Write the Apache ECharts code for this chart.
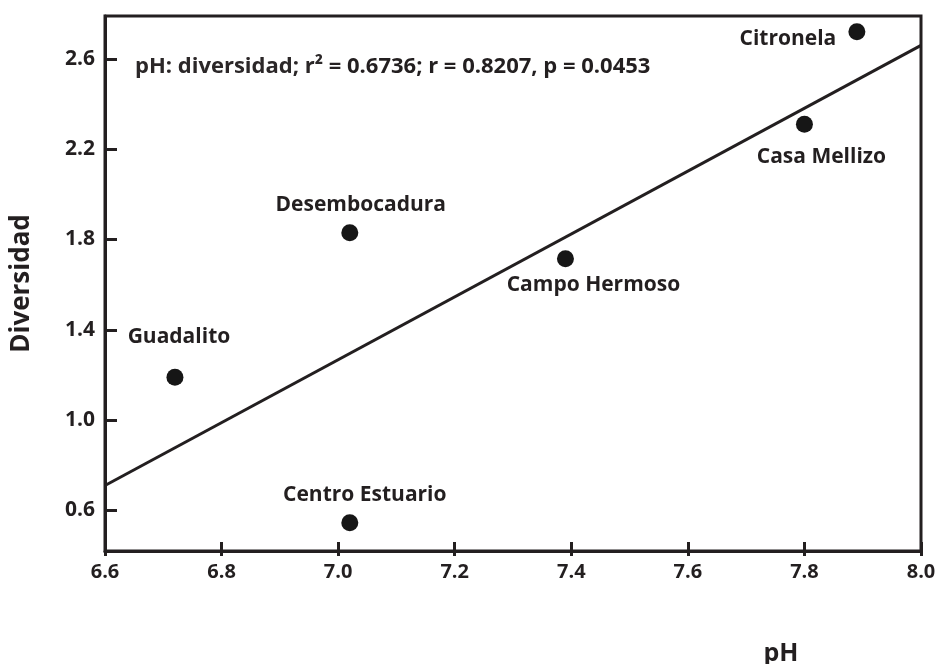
<!DOCTYPE html>
<html>
<head>
<meta charset="utf-8">
<script src="https://cdn.jsdelivr.net/npm/echarts@6/dist/echarts.min.js"></script>
<style>
  html, body { margin: 0; padding: 0; background: #ffffff; }
  #chart { width: 942px; height: 664px; }
</style>
</head>
<body>
<div id="chart"></div>
<script>
// ---- data ----
const sites = ['Guadalito', 'Desembocadura', 'Centro Estuario', 'Campo Hermoso', 'Casa Mellizo', 'Citronela'];
const phValues = [6.72, 7.02, 7.02, 7.39, 7.80, 7.89];
const diversityValues = [1.19, 1.83, 0.545, 1.715, 2.31, 2.72];
const fitX = [6.6, 8.0];
const fitY = [0.71, 2.66];
const xTicks = [6.6, 6.8, 7.0, 7.2, 7.4, 7.6, 7.8, 8.0];
const yTicks = [0.6, 1.0, 1.4, 1.8, 2.2, 2.6];
const xTitle = 'pH';
const yTitle = 'Diversidad';
const statsLabel = 'pH: diversidad; r²';
const statsValues = ' = 0.6736; r = 0.8207, p = 0.0453';

// ---- label placement (offsets from point centre, in px) ----
const labelOffsets = {
  'Guadalito': [4, -40],
  'Desembocadura': [11, -28],
  'Centro Estuario': [15, -28],
  'Campo Hermoso': [28, 26],
  'Casa Mellizo': [17, 33],
  'Citronela': [-69, 7]
};

const ink = '#231f20';
const font = '"Open Sans", "Noto Sans", sans-serif';

const pointData = sites.map((s, i) => ({
  name: s,
  value: [phValues[i], diversityValues[i]],
  label: { offset: labelOffsets[s] }
}));
const fitData = fitX.map((x, i) => [x, fitY[i]]);

const chart = echarts.init(document.getElementById('chart'), null, { renderer: 'canvas' });
chart.setOption({
  backgroundColor: '#ffffff',
  animation: false,
  grid: {
    left: 105, right: 21, top: 16, bottom: 113,
    outerBoundsMode: 'none',
    containLabel: false,
    show: true, borderColor: ink, borderWidth: 3, backgroundColor: 'transparent'
  },
  xAxis: [{
    type: 'value',
    min: xTicks[0], max: xTicks[xTicks.length - 1], interval: 0.2,
    position: 'bottom',
    name: xTitle,
    nameLocation: 'middle',
    nameGap: 90,
    nameTextStyle: { fontFamily: font, fontWeight: 'bold', fontSize: 25, color: ink, padding: [0, 0, 0, 536] },
    axisLine: { show: true, lineStyle: { color: ink, width: 3 } },
    axisTick: { show: true, inside: true, length: 9, lineStyle: { color: ink, width: 3 } },
    axisLabel: {
      fontFamily: font, fontWeight: 'bold', fontSize: 20, color: ink, margin: 11,
      formatter: v => v.toFixed(1)
    },
    splitLine: { show: false }
  }, {
    type: 'value',
    min: xTicks[0], max: xTicks[xTicks.length - 1], interval: 0.2,
    position: 'bottom',
    axisLine: { show: false },
    axisTick: { show: true, inside: false, length: 5, lineStyle: { color: ink, width: 3 } },
    axisLabel: { show: false },
    splitLine: { show: false }
  }],
  yAxis: {
    type: 'value',
    min: 0.42, max: 2.79,
    name: yTitle,
    nameLocation: 'middle',
    nameGap: 70,
    nameTextStyle: { fontFamily: font, fontWeight: 'bold', fontSize: 26, color: ink },
    axisLine: { show: true, lineStyle: { color: ink, width: 3 } },
    axisTick: { show: true, inside: true, length: 12, customValues: yTicks, lineStyle: { color: ink, width: 3 } },
    axisLabel: {
      fontFamily: font, fontWeight: 'bold', fontSize: 21, color: ink, margin: 10,
      customValues: yTicks,
      formatter: v => v.toFixed(1)
    },
    splitLine: { show: false }
  },
  graphic: [{
    type: 'text',
    x: 135, y: 67,
    silent: true,
    style: {
      text: '{a|' + statsLabel + '}{b|' + statsValues + '}',
      verticalAlign: 'middle',
      rich: {
        a: { fontFamily: font, fontWeight: 'bold', fontSize: 22, fill: '#2b2728' },
        b: { fontFamily: font, fontWeight: 'bold', fontSize: 22, fill: ink }
      }
    }
  }],
  series: [{
    type: 'line',
    data: fitData,
    xAxisIndex: 0,
    showSymbol: false,
    symbol: 'none',
    silent: true,
    lineStyle: { color: ink, width: 3 },
    z: 2
  }, {
    type: 'scatter',
    data: pointData,
    xAxisIndex: 0,
    symbol: 'circle',
    symbolSize: 17,
    itemStyle: { color: '#161616', opacity: 1 },
    label: {
      show: true,
      position: 'inside',
      formatter: p => p.name,
      fontFamily: font, fontWeight: 'bold', fontSize: 21, color: ink
    },
    z: 3
  }]
});
</script>
</body>
</html>
